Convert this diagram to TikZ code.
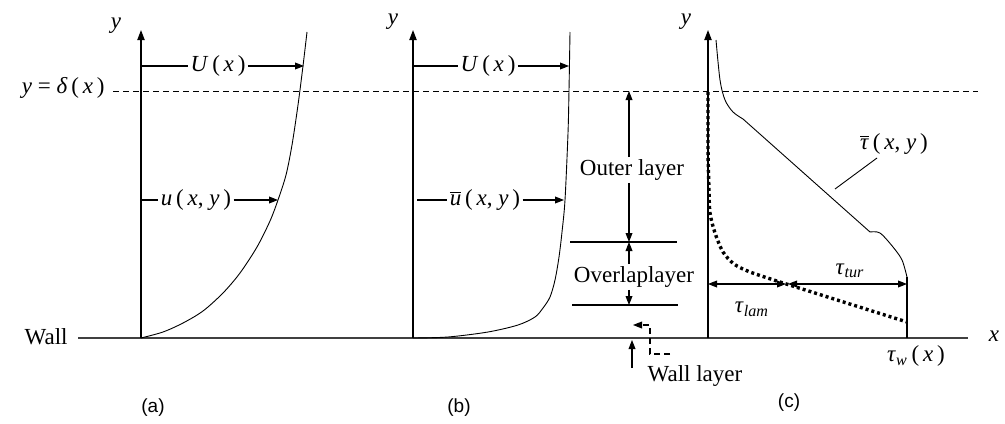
\documentclass[tikz,border=0pt]{standalone}
\usepackage{fontspec}
\setmainfont{Liberation Serif}
\setsansfont{Liberation Sans}
\usetikzlibrary{arrows.meta}
\newcommand\mi[1]{\textit{#1}}
\begin{document}
\begin{tikzpicture}[x=0.5pt,y=-0.5pt,
  every node/.style={font=\fontsize{11.5}{13}\selectfont, inner sep=1pt},
  axis/.style={line width=0.7pt,-{Triangle[length=5pt,width=3.6pt]}},
  tip/.style={line width=0.55pt,-{Triangle[length=4.5pt,width=3.4pt]}},
  dtip/.style={line width=0.55pt,{Triangle[length=4.5pt,width=3.4pt]}-{Triangle[length=4.5pt,width=3.4pt]}},
  lin/.style={line width=0.55pt},
  prof/.style={line width=0.45pt},
  walll/.style={line width=0.8pt, black!75},
  dashl/.style={line width=0.5pt, dash pattern=on 3pt off 2pt},
  dotl/.style={line width=1.7pt, dash pattern=on 1.5pt off 1.5pt},
  captxt/.style={font=\sffamily\fontsize{9.5}{11}\selectfont}
]
\useasboundingbox (0,0) rectangle (1005,423);

% wall and delta line
\coordinate (wl) at (78,338); \coordinate (wr) at (968,338);
\draw[walll] (wl) -- (wr);
\node[anchor=east] (wall) at (70,337) {Wall};
\coordinate (dl) at (113,91); \coordinate (dr) at (978,91);
\draw[dashl] (dl) -- (dr);
\node[anchor=east] (delta) at (107,88) {\mi{y} = \mi{δ}\,(\,\mi{x}\,)};
\node (xlab) at (994,336) {\mi{x}};

% ---------- (a)
\coordinate (aO) at (141,338); \coordinate (aT) at (141,30);
\draw[axis] (aO) -- (aT);
\node (ay) at (116,26) {\mi{y}};
\draw[prof] plot[smooth] coordinates {(141,338)(163,332)(183,323)(203,311)(223,293)(240,273)(257,247)(270,221)(278,200)(286,175)(292,145)(298,105)(303,66)(307,32)};
\node (Ua) at (218,66) {\mi{U}\,(\,\mi{x}\,)};
\coordinate (UaS) at (141,66); \coordinate (UaE) at (304,66);
\draw[lin] (UaS) -- (Ua.west);
\draw[tip] (Ua.east) -- (UaE);
\node (ua) at (196,200) {\mi{u}\,(\,\mi{x}, \mi{y}\,)};
\coordinate (uaS) at (141,200); \coordinate (uaE) at (278,200);
\draw[lin] (uaS) -- (ua.west);
\draw[tip] (ua.east) -- (uaE);
\node[captxt] (capa) at (153,408) {(a)};

% ---------- (b)
\coordinate (bO) at (413,338); \coordinate (bT) at (413,30);
\draw[axis] (bO) -- (bT);
\node (by) at (393,22) {\mi{y}};
\draw[prof] plot[smooth] coordinates {(413,338)(448,337)(488,332)(518,325)(535,317)(543,308)(550,297)(555,280)(559,257)(562,232)(565,200)(568,133)(569,90)(570,32)};
\node (Ub) at (488,66) {\mi{U}\,(\,\mi{x}\,)};
\coordinate (UbS) at (413,66); \coordinate (UbE) at (569,66);
\draw[lin] (UbS) -- (Ub.west);
\draw[tip] (Ub.east) -- (UbE);
\node (ub) at (485,200) {\(\overline{\mbox{\mi{u}}}\)\,(\,\mi{x}, \mi{y}\,)};
\coordinate (ubS) at (417,200); \coordinate (ubE) at (564,200);
\draw[lin] (ubS) -- (ub.west);
\draw[tip] (ub.east) -- (ubE);
\node[captxt] (capb) at (459,408) {(b)};

% layers
\coordinate (l1a) at (570,242); \coordinate (l1b) at (677,242);
\coordinate (l2a) at (572,305); \coordinate (l2b) at (678,305);
\draw[lin] (l1a) -- (l1b);
\draw[lin] (l2a) -- (l2b);
\node (outer) at (632,170) {Outer layer};
\coordinate (o1) at (629,91); \coordinate (o2) at (629,242);
\draw[tip] (outer.north -| o1) -- (o1);
\draw[tip] (outer.south -| o1) -- (o2);
\node (overlap) at (634,277) {Overlaplayer};
\coordinate (ov2) at (629,305);
\draw[tip] (overlap.north -| o1) -- (o2);
\draw[tip] (overlap.south -| o1) -- (ov2);
\node (walllayer) at (695,376) {Wall layer};
\coordinate (wu1) at (632,368); \coordinate (wu2) at (632,340);
\draw[tip] (wu1) -- (wu2);
\coordinate (wd1) at (670,354); \coordinate (wd2) at (650,354);
\coordinate (wd3) at (650,325); \coordinate (wd4) at (633,325);
\draw[tip, dash pattern=on 3pt off 2pt] (wd1) -- (wd2) -- (wd3) -- (wd4);

% ---------- (c)
\coordinate (cO) at (708,338); \coordinate (cT) at (708,30);
\draw[axis] (cO) -- (cT);
\node (cy) at (686,22) {\mi{y}};
\draw[prof] plot[smooth] coordinates {(716,40)(720,80)(725,100)(733,112)(743,119)}
  -- plot[smooth] coordinates {(870,232)(880,233)(893,247)(902,260)(907,277)};
\coordinate (tw1) at (907,277); \coordinate (tw2) at (907,338);
\draw[lin] (tw1) -- (tw2);
\draw[dotl] plot[smooth] coordinates {(708,92)(708,150)(709,190)(710,213)(715,233)(723,252)(734,264)(750,272)(780,282)} -- (907,322);
\coordinate (h0) at (708,284); \coordinate (h1) at (786,284);
\coordinate (h2) at (788,284); \coordinate (h3) at (907,284);
\draw[dtip] (h0) -- (h1);
\draw[dtip] (h2) -- (h3);
\node (ttur) at (850,271) {\mi{τ}\textsubscript{\mi{tur}}};
\node (tlam) at (752,309) {\mi{τ}\textsubscript{\mi{lam}}};
\node (tw) at (916,356) {\mi{τ}\textsubscript{\mi{w}}\,(\,\mi{x}\,)};
\node (tau) at (894,144) {\(\overline{\mbox{\mi{τ}}}\)\,(\,\mi{x}, \mi{y}\,)};
\coordinate (lead) at (835,189);
\draw[prof] (877,158) -- (lead);
\node[captxt] (capc) at (789,403) {(c)};
\end{tikzpicture}
\end{document}
